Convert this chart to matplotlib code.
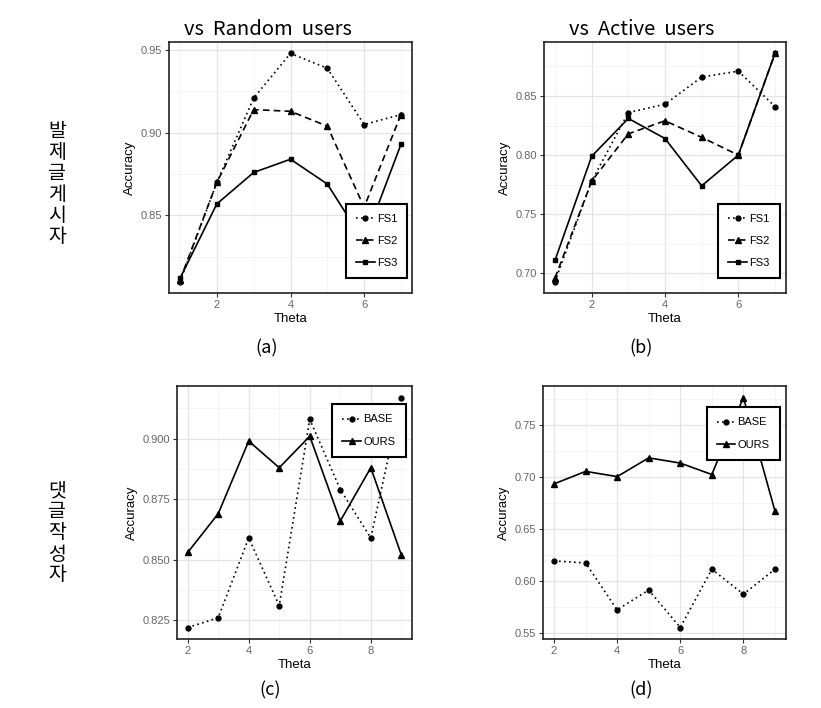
import matplotlib
matplotlib.use('Agg')
import matplotlib.pyplot as plt
from matplotlib.ticker import MultipleLocator, FormatStrFormatter

plt.rcParams['font.family'] = ['Liberation Sans', 'DejaVu Sans']

# data
theta_top = [1, 2, 3, 4, 5, 6, 7]
fs1_random = [0.810, 0.870, 0.921, 0.948, 0.939, 0.905, 0.911]
fs2_random = [0.811, 0.870, 0.914, 0.913, 0.904, 0.855, 0.911]
fs3_random = [0.812, 0.857, 0.876, 0.884, 0.869, 0.834, 0.893]

fs1_active = [0.693, 0.778, 0.836, 0.843, 0.866, 0.871, 0.841]
fs2_active = [0.696, 0.778, 0.818, 0.829, 0.815, 0.800, 0.886]
fs3_active = [0.711, 0.799, 0.831, 0.814, 0.774, 0.800, 0.886]

theta_bottom = [2, 3, 4, 5, 6, 7, 8, 9]
base_random = [0.822, 0.826, 0.859, 0.831, 0.908, 0.879, 0.859, 0.917]
ours_random = [0.853, 0.869, 0.899, 0.888, 0.901, 0.866, 0.888, 0.852]
base_active = [0.619, 0.617, 0.572, 0.591, 0.555, 0.611, 0.587, 0.611]
ours_active = [0.693, 0.705, 0.700, 0.718, 0.713, 0.702, 0.776, 0.667]

KR = ['Noto Sans CJK KR', 'DejaVu Sans']
W, H = 821, 708

fig = plt.figure(figsize=(W / 100, H / 100), dpi=100)


def box(x0, y0, x1, y1):
    # pixel box (top-left origin) -> figure fraction
    return [x0 / W, 1 - y1 / H, (x1 - x0) / W, (y1 - y0) / H]


def style_axes(ax, ymajor, fmt):
    ax.xaxis.set_major_locator(MultipleLocator(2))
    ax.xaxis.set_minor_locator(MultipleLocator(1))
    ax.yaxis.set_major_locator(MultipleLocator(ymajor))
    ax.yaxis.set_minor_locator(MultipleLocator(ymajor / 2))
    ax.yaxis.set_major_formatter(FormatStrFormatter(fmt))
    ax.grid(which='minor', color='#f3f3f3', lw=0.6)
    ax.grid(which='major', color='#e4e4e4', lw=0.9)
    ax.set_axisbelow(True)
    ax.tick_params(which='minor', length=0)
    ax.tick_params(which='major', length=3, width=0.8, color='#333333',
                   labelsize=8, labelcolor='#666666', pad=2)
    for s in ax.spines.values():
        s.set_color('#222222')
        s.set_linewidth(1.2)
    ax.set_xlabel('Theta', fontsize=9.5, labelpad=2)
    ax.set_ylabel('Accuracy', fontsize=9.5, labelpad=3)


def add_legend(ax, x, y):
    leg = ax.legend(loc='upper left', bbox_to_anchor=(x, y), fontsize=8,
                    frameon=True, fancybox=False, framealpha=1,
                    edgecolor='black', borderpad=0.9, labelspacing=1.1,
                    handlelength=1.7, handletextpad=0.2)
    leg.get_frame().set_linewidth(1.5)


dot = (0, (1, 2))
dash = (0, (4, 2.5))
lw = 1.2

# (a)
ax = fig.add_axes(box(169, 42, 412, 293))
ax.plot(theta_top, fs1_random, color='black', ls=dot, lw=lw, marker='o', ms=3.5, label='FS1')
ax.plot(theta_top, fs2_random, color='black', ls=dash, lw=lw, marker='^', ms=4, label='FS2')
ax.plot(theta_top, fs3_random, color='black', ls='-', lw=lw, marker='s', ms=3.2, label='FS3')
style_axes(ax, 0.05, '%.2f')
add_legend(ax, 0.704, 0.378)

# (b)
ax = fig.add_axes(box(544, 42, 786, 293))
ax.plot(theta_top, fs1_active, color='black', ls=dot, lw=lw, marker='o', ms=3.5, label='FS1')
ax.plot(theta_top, fs2_active, color='black', ls=dash, lw=lw, marker='^', ms=4, label='FS2')
ax.plot(theta_top, fs3_active, color='black', ls='-', lw=lw, marker='s', ms=3.2, label='FS3')
style_axes(ax, 0.05, '%.2f')
add_legend(ax, 0.698, 0.378)

# (c)
ax = fig.add_axes(box(177, 386, 412, 639))
ax.plot(theta_bottom, base_random, color='black', ls=dot, lw=lw, marker='o', ms=3.5, label='BASE')
ax.plot(theta_bottom, ours_random, color='black', ls='-', lw=lw, marker='^', ms=4, label='OURS')
style_axes(ax, 0.025, '%.3f')
add_legend(ax, 0.638, 0.949)

# (d)
ax = fig.add_axes(box(543, 386, 786, 639))
ax.plot(theta_bottom, base_active, color='black', ls=dot, lw=lw, marker='o', ms=3.5, label='BASE')
ax.plot(theta_bottom, ours_active, color='black', ls='-', lw=lw, marker='^', ms=4, label='OURS')
style_axes(ax, 0.05, '%.2f')
add_legend(ax, 0.650, 0.937)

# titles, panel letters, row labels
fig.text(268 / W, 1 - 35 / H, 'vs  Random  users', family=KR, fontsize=14.5,
         ha='center', va='baseline')
fig.text(642 / W, 1 - 35 / H, 'vs  Active  users', family=KR, fontsize=14.5,
         ha='center', va='baseline')
for label, x, y in [('(a)', 267, 348), ('(b)', 641, 348),
                    ('(c)', 270, 690), ('(d)', 641, 690)]:
    fig.text(x / W, 1 - y / H, label, family=KR, fontsize=13,
             ha='center', va='center')
fig.text(57 / W, 1 - 184 / H, '\n'.join('발제글게시자'), family=KR,
         fontsize=14, ha='center', va='center', linespacing=1.0)
fig.text(57 / W, 1 - 533 / H, '\n'.join('댓글작성자'), family=KR,
         fontsize=14, ha='center', va='center', linespacing=1.0)

fig.savefig('out.png', dpi=100, facecolor='white')
